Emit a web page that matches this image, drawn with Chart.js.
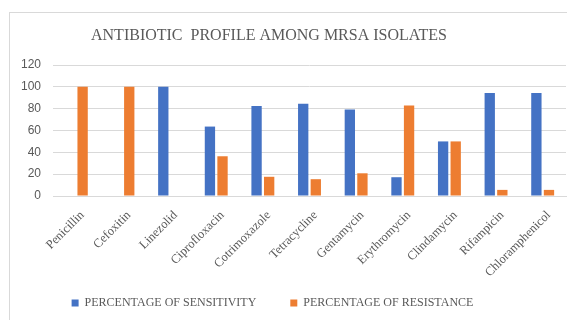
<!DOCTYPE html>
<html>
<head>
<meta charset="utf-8">
<script src="https://cdn.jsdelivr.net/npm/chart.js@4"></script>
<style>
html,body{margin:0;padding:0;background:#fff;overflow:hidden;}
#frame{position:absolute;left:9px;top:12px;width:620px;height:340px;border:1px solid #d9d9d9;box-sizing:border-box;}
#wrap{position:absolute;left:0;top:0;width:567px;height:320px;}
</style>
</head>
<body>
<div id="frame"></div>
<div id="wrap"><canvas id="c" width="567" height="320"></canvas></div>
<script>
const titleText = "ANTIBIOTIC  PROFILE AMONG MRSA ISOLATES";
const categories = ["Penicillin","Cefoxitin","Linezolid","Ciprofloxacin","Cotrimoxazole","Tetracycline","Gentamycin","Erythromycin","Clindamycin","Rifampicin","Chloramphenicol"];
const sensitivity = [0, 0, 100, 63.6, 82.4, 84.6, 79.2, 17.2, 50, 94.4, 94.4];
const resistance = [100, 100, 0, 36.4, 17.6, 15.4, 20.8, 82.8, 50, 5.6, 5.6];
const seriesNames = ["PERCENTAGE OF SENSITIVITY","PERCENTAGE OF RESISTANCE"];
const yTicks = [0, 20, 40, 60, 80, 100, 120];

const LEG_PAD = 34;
const titlePlugin = {
  id: 'customTitle',
  afterLayout(chart) {
    const lg = chart.legend;
    if (lg) {
      const h = lg.bottom - lg.top;
      lg.left -= 15; lg.right -= 15;
      lg.top = 303 - LEG_PAD - 6;
      lg.bottom = lg.top + h;
    }
  },
  afterDraw(chart) {
    const ctx = chart.ctx;
    ctx.save();
    ctx.font = '16px "Liberation Serif"';
    ctx.fillStyle = '#595959';
    ctx.textAlign = 'center';
    ctx.textBaseline = 'middle';
    ctx.fillText(titleText, 269, 36);
    ctx.restore();
  }
};

new Chart(document.getElementById('c'), {
  type: 'bar',
  data: {
    labels: categories,
    datasets: [
      { label: seriesNames[0], data: sensitivity, backgroundColor: '#4472C4', categoryPercentage: 0.54, barPercentage: 0.82 },
      { label: seriesNames[1], data: resistance, backgroundColor: '#ED7D31', categoryPercentage: 0.54, barPercentage: 0.82 }
    ]
  },
  options: {
    responsive: false,
    animation: false,
    layout: { padding: { left: 9, right: 1, top: 65, bottom: -16 } },
    plugins: {
      title: { display: false },
      tooltip: { enabled: false },
      legend: {
        position: 'bottom',
        labels: {
          boxWidth: 7, boxHeight: 7, padding: LEG_PAD,
          color: '#595959',
          font: { family: '"Liberation Serif"', size: 12 }
        }
      }
    },
    scales: {
      x: {
        grid: { display: false, drawTicks: false },
        border: { color: '#d9d9d9' },
        ticks: {
          minRotation: 45, maxRotation: 45, autoSkip: false, padding: 12, labelOffset: 6,
          color: '#595959',
          font: { family: '"Liberation Serif"', size: 12.5 }
        },
        afterFit(s) { s.height = 84; }
      },
      y: {
        min: 0, max: 120,
        afterBuildTicks(s) { s.ticks = yTicks.map(v => ({ value: v })); },
        grid: { color: '#d9d9d9', drawTicks: false },
        border: { display: false },
        ticks: {
          padding: 12,
          color: '#595959',
          font: { family: '"Liberation Sans"', size: 12 }
        },
        afterFit(s) { s.width = 44; }
      }
    }
  },
  plugins: [titlePlugin]
});
</script>
</body>
</html>
